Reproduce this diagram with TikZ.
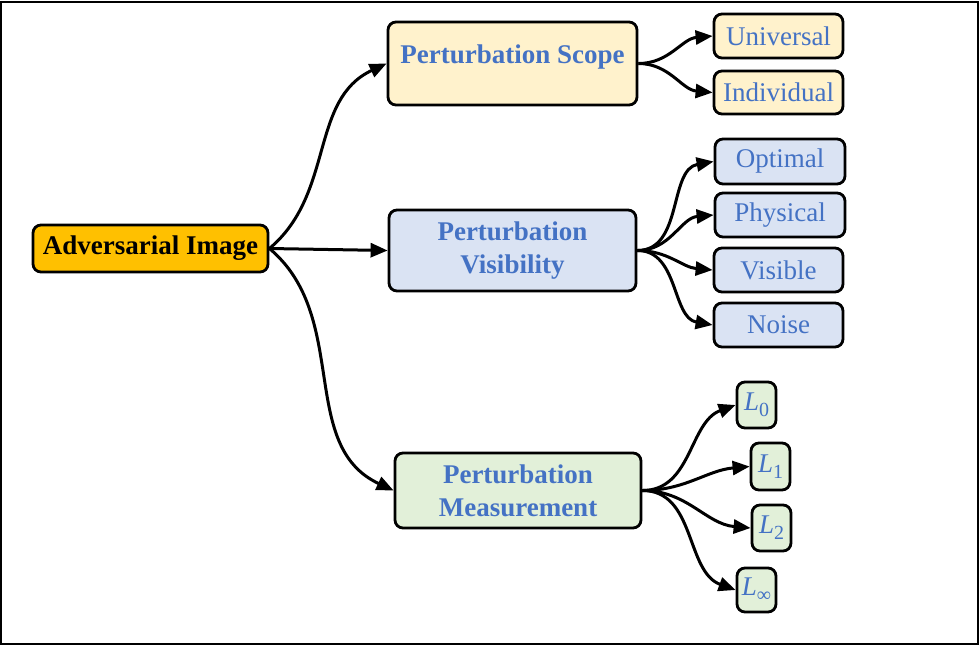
\documentclass[tikz,border=0pt]{standalone}
\usepackage{fontspec}
\setmainfont{Liberation Serif}[BoldFont={Liberation Serif Bold},ItalicFont={Liberation Serif Italic}]
\usetikzlibrary{arrows.meta}
\definecolor{tblue}{HTML}{4472C4}
\definecolor{advorange}{HTML}{FFC000}
\definecolor{scopefill}{HTML}{FFF2CC}
\definecolor{visfill}{HTML}{DAE3F3}
\definecolor{measfill}{HTML}{E2F0D9}
\newcommand{\Lsub}[1]{{\itshape L}\raisebox{-0.22em}{\fontsize{20}{20}\selectfont #1}}
\begin{document}
\begin{tikzpicture}[x=1pt,y=-1pt,
  box/.style={draw=black, line width=2.8pt, rounded corners=8pt, inner sep=0pt, align=center},
  bigtext/.style={font=\fontsize{27}{33}\selectfont\bfseries},
  smalltext/.style={font=\fontsize{27}{33}\selectfont, text=tblue},
  conn/.style={-{Triangle[length=17pt,width=14pt]}, line width=3pt}]
\useasboundingbox (0,0) rectangle (980,646);
\draw[line width=2pt] (1,2) rectangle (978,644);

\node[box, bigtext, fill=advorange, minimum width=235pt, minimum height=47pt] (adv) at (150.5,248.5) {Adversarial Image};

\node[box, bigtext, text=tblue, fill=scopefill, minimum width=249pt, minimum height=83pt, text height=41pt, text depth=42pt] (scope) at (512.5,63.5) {Perturbation Scope};
\node[box, bigtext, text=tblue, fill=visfill, minimum width=247pt, minimum height=81pt] (vis) at (512.5,250.5) {Perturbation\\Visibility};
\node[box, bigtext, text=tblue, fill=measfill, minimum width=246pt, minimum height=75pt] (meas) at (518,490.5) {Perturbation\\Measurement};

\node[box, smalltext, fill=scopefill, minimum width=129pt, minimum height=44pt] (univ) at (778.5,36) {Universal};
\node[box, smalltext, fill=scopefill, minimum width=129pt, minimum height=43pt] (indiv) at (778.5,92.5) {Individual};

\node[box, smalltext, fill=visfill, minimum width=130pt, minimum height=45pt] (opt) at (780,161.5) {Optimal};
\node[box, smalltext, fill=visfill, minimum width=130pt, minimum height=44pt] (phys) at (780,215) {Physical};
\node[box, smalltext, fill=visfill, minimum width=129pt, minimum height=44pt] (visible) at (778.5,270) {Visible};
\node[box, smalltext, fill=visfill, minimum width=129pt, minimum height=44pt] (noise) at (778.5,325) {Noise};

\node[box, smalltext, fill=measfill, minimum width=39pt, minimum height=46pt] (l0) at (756.5,405) {\Lsub{0}};
\node[box, smalltext, fill=measfill, minimum width=39pt, minimum height=47pt] (l1) at (770.5,466.5) {\Lsub{1}};
\node[box, smalltext, fill=measfill, minimum width=39pt, minimum height=46pt] (l2) at (771.5,528) {\Lsub{2}};
\node[box, smalltext, fill=measfill, minimum width=39pt, minimum height=44pt] (linf) at (756.5,590) {\Lsub{∞}};

\draw[conn] (adv.east) to[out=40,in=205] (scope.west);
\draw[conn] (adv.east) -- (vis.west);
\draw[conn] (adv.east) to[out=-40,in=155] (meas.west);

\draw[conn] (scope.east) to[out=0,in=185] (univ.west);
\draw[conn] (scope.east) to[out=0,in=175] (indiv.west);

\draw[conn] (vis.east) to[out=0,in=190] (opt.west);
\draw[conn] (vis.east) to[out=0,in=185] (phys.west);
\draw[conn] (vis.east) to[out=0,in=175] (visible.west);
\draw[conn] (vis.east) to[out=0,in=170] (noise.west);

\draw[conn] (meas.east) to[out=0,in=200] (l0.west);
\draw[conn] (meas.east) to[out=0,in=185] (l1.west);
\draw[conn] (meas.east) to[out=0,in=175] (l2.west);
\draw[conn] (meas.east) to[out=0,in=160] (linf.west);
\end{tikzpicture}
\end{document}
